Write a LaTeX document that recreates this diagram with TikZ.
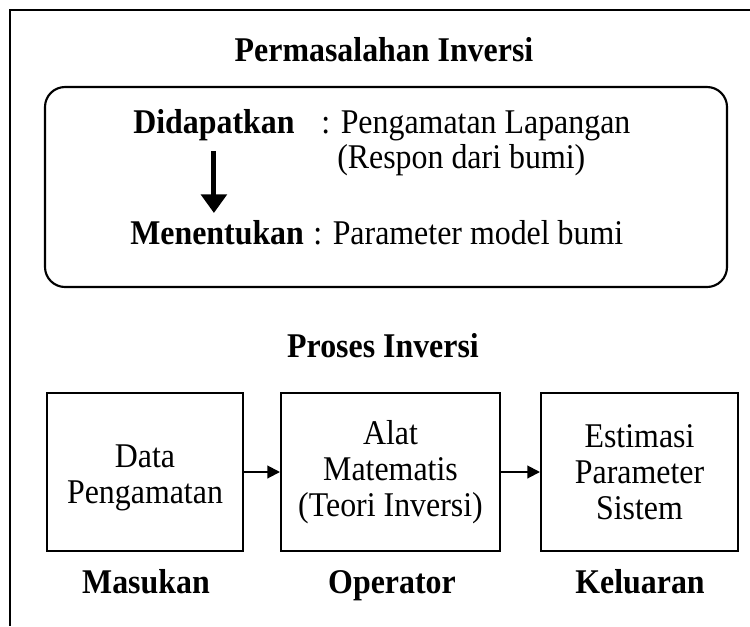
\documentclass[tikz,border=0pt]{standalone}
\usepackage{fontspec}
\setmainfont{Liberation Serif}[FakeStretch=0.92]
\usetikzlibrary{arrows.meta}

\tikzset{
  txt/.style={inner sep=0pt, font=\fontsize{26pt}{27pt}\selectfont},
  btxt/.style={txt, font=\fontsize{26pt}{27pt}\selectfont\bfseries},
  procbox/.style={draw, line width=1.5pt, inner sep=0pt, align=center,
    minimum height=118.5pt, font=\fontsize{26pt}{27pt}\selectfont},
  flow/.style={line width=1.5pt, -{Triangle[length=9.5pt,width=9.5pt]}},
  bigarrow/.style={line width=3.8pt, -{Triangle[length=14pt,width=19pt]}},
}

\begin{document}
\begin{tikzpicture}[x=0.75pt,y=-0.75pt]
\useasboundingbox (0,0) rectangle (750,626);

% open frame: top and left edges
\draw[line width=2.2pt] (750,10) -- (10,10) -- (10,626);

% inverse problem statement
\node[btxt, anchor=base] (title1) at (384,61) {Permasalahan Inversi};
\draw[line width=1.6pt, rounded corners=15pt] (45,87) rectangle (727,287);

\node[btxt, anchor=base west] (dida) at (133,133) {Didapatkan};
\node[txt, anchor=base west] (obs1) at (321,133) {: Pengamatan Lapangan};
\node[txt, anchor=base west] (obs2) at (337,168) {(Respon dari bumi)};
\node[btxt, anchor=base west] (menen) at (130,244) {Menentukan};
\node[txt, anchor=base west] (par) at (313,244) {: Parameter model bumi};

\draw[bigarrow, shorten <=8pt, shorten >=5pt] (dida.south) -- (dida.south |- menen.north);

% inversion process
\node[btxt, anchor=base] (title2) at (383,357) {Proses Inversi};

\node[procbox, minimum width=147pt] (b1) at (145,472) {};
\node[txt, align=center] (b1text) at (145,478) {Data\\Pengamatan};
\node[procbox, minimum width=164.25pt] (b2) at (390.5,472) {Alat\\Matematis\\(Teori Inversi)};
\node[procbox, minimum width=147.75pt] (b3) at (639.5,472) {Estimasi\\Parameter\\Sistem};

\draw[flow] (b1) -- (b2);
\draw[flow] (b2) -- (b3);

\node[btxt, anchor=base] (in) at (146,593) {Masukan};
\node[btxt, anchor=base] (op) at (392,593) {Operator};
\node[btxt, anchor=base] (out) at (640,593) {Keluaran};
\end{tikzpicture}
\end{document}
